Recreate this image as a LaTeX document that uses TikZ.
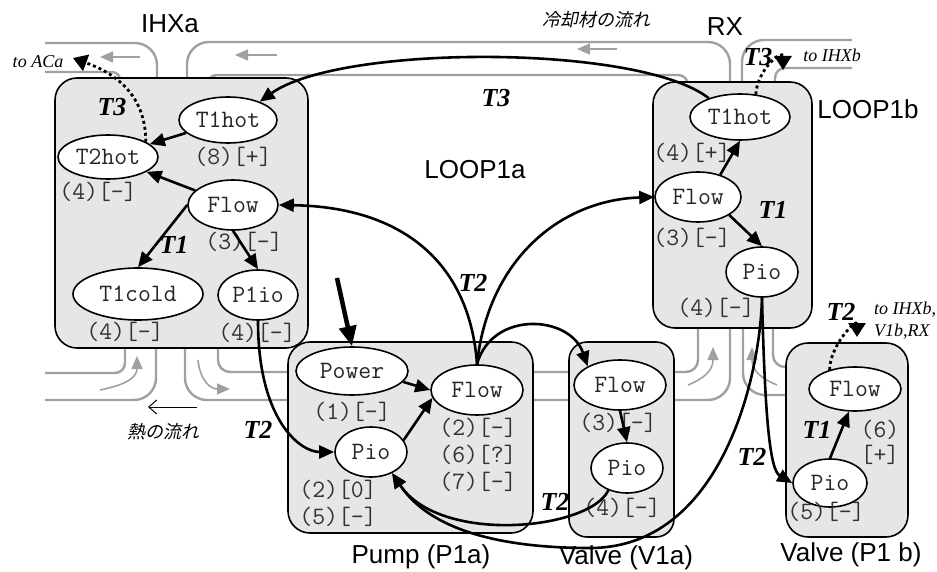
\documentclass[tikz,border=0pt]{standalone}
\usepackage{fontspec}
\setmainfont{Liberation Serif}
\setsansfont{Liberation Sans}
\newfontfamily\jpfont[FakeSlant=0.2]{Noto Sans CJK JP}
\usepackage{tikz}
\usetikzlibrary{arrows.meta,positioning,calc,shapes.geometric}

\definecolor{boxgray}{HTML}{E6E6E6}
\definecolor{pipegray}{HTML}{A0A0A0}

\begin{document}
\begin{tikzpicture}[
  x=1pt, y=-1pt,
  >={Triangle[length=15pt,width=13pt]},
  grp/.style={draw, line width=1.6pt, fill=boxgray, rounded corners=22pt, inner sep=0pt},
  var/.style={ellipse, draw, line width=1.6pt, fill=white, inner sep=0pt, minimum height=50pt,
              font=\fontsize{25}{27}\selectfont\ttfamily, text=black!85},
  ann/.style={font=\fontsize{25}{27}\selectfont\ttfamily, text=black!80, inner sep=0pt},
  ttl/.style={font=\fontsize{26}{28}\selectfont\sffamily, inner sep=0pt},
  tag/.style={font=\fontsize{26}{28}\selectfont\bfseries\itshape, inner sep=0pt},
  dst/.style={font=\fontsize{18}{22}\selectfont\itshape, inner sep=0pt},
  jp/.style={font=\fontsize{18}{20}\selectfont\jpfont, inner sep=0pt},
  dep/.style={->, line width=2.6pt},
  ext/.style={-{Triangle[length=14pt,width=17pt]}, line width=2.8pt, dash pattern=on 3pt off 3pt},
  pipe/.style={draw=pipegray, line width=2.4pt, rounded corners=22pt},
  flowarr/.style={pipegray, line width=1.6pt, -{Triangle[length=13pt,width=11pt]}},
]
\useasboundingbox (0,0) rectangle (937,572);

% coolant pipes
\draw[pipe] (45,43) -- (157,43) -- (157,80);
\draw[pipe, rounded corners=8pt] (45,72) -- (120,72) -- (120,80);
\draw[pipe] (187,80) -- (187,42) -- (730,42) -- (730,84);
\draw[pipe, rounded corners=10pt] (207,80) -- (207,75) -- (688,75) -- (688,84);
\draw[pipe] (742,84) -- (742,40) -- (852,40);
\draw[pipe, rounded corners=10pt] (775,84) -- (775,68) -- (852,68);
\draw[pipe] (45,400) -- (156,400) -- (156,346);
\draw[pipe, rounded corners=10pt] (45,373) -- (125,373) -- (125,346);
\draw[pipe] (185,346) -- (185,400) -- (730,400) -- (730,326);
\draw[pipe, rounded corners=12pt] (218,346) -- (218,372) -- (698,372) -- (698,326);
\draw[pipe] (743,326) -- (743,395) -- (790,395);
\draw[pipe, rounded corners=12pt] (773,326) -- (773,367) -- (790,367);

\draw[flowarr] (140,57) -- (100,57);
\draw[flowarr] (277,55) -- (235,55);
\draw[flowarr] (617,49) -- (577,49);
\draw[flowarr] (100,390) .. controls (125,385) and (137,378) .. (137,356);
\draw[flowarr] (198,360) .. controls (200,380) and (210,389) .. (230,389);
\draw[flowarr] (688,385) .. controls (705,378) and (713,370) .. (713,347);
\draw[flowarr] (777,385) .. controls (760,378) and (752,370) .. (752,347);
\draw[line width=1pt, -{Straight Barb[length=8pt,width=14pt]}] (197,407) -- (148,407);

% component boxes
\node[grp, minimum width=253pt, minimum height=270pt] (boxIHX) at (181.5,213) {};
\node[grp, minimum width=159pt, minimum height=246pt] (boxRX) at (732.5,205) {};
\node[grp, minimum width=245pt, minimum height=191pt] (boxPump) at (410.5,437.5) {};
\node[grp, minimum width=105pt, minimum height=195pt, rounded corners=18pt] (boxVa) at (621.5,439.5) {};
\node[grp, minimum width=122pt, minimum height=194pt] (boxVb) at (847,440) {};

\node[ttl] (ttlIHX) at (170,24) {IHXa};
\node[ttl] (ttlRX) at (725,27) {RX};
\node[ttl] (ttlLa) at (475,170) {LOOP1a};
\node[ttl] (ttlLb) at (868,109) {LOOP1b};
\node[ttl] (ttlPump) at (421,557) {Pump (P1a)};
\node[ttl] (ttlVa) at (626,558) {Valve (V1a)};
\node[ttl] (ttlVb) at (851,555) {Valve (P1 b)};
\node[jp] (jpCool) at (596,20) {冷却材の流れ};
\node[jp] (jpHeat) at (163,432) {熱の流れ};

\node[dst] (toACa) at (38,62) {to ACa};
\node[dst] (toIHXb) at (832,55) {to IHXb};
\node[dst, align=left] (toMany) at (905,321) {to IHXb,\\V1b,RX};

% variables
\node[var, minimum width=98pt, minimum height=46pt] (ihxT1hot) at (228,120) {T1hot};
\node[var, minimum width=100pt, minimum height=44pt] (ihxT2hot) at (108,157) {T2hot};
\node[var, minimum width=90pt] (ihxFlow) at (233,205) {Flow};
\node[var, minimum width=130pt, minimum height=52pt] (ihxT1cold) at (138,294) {T1cold};
\node[var, minimum width=80pt] (ihxP1io) at (258,295) {P1io};
\node[var, minimum width=100pt, minimum height=46pt] (rxT1hot) at (740,117) {T1hot};
\node[var, minimum width=86pt] (rxFlow) at (698,197) {Flow};
\node[var, minimum width=72pt] (rxPio) at (762,272) {Pio};
\node[var, minimum width=112pt, minimum height=48pt] (pPower) at (352,371) {Power};
\node[var, minimum width=92pt] (pFlow) at (477,390) {Flow};
\node[var, minimum width=72pt] (pPio) at (371,452) {Pio};
\node[var, minimum width=92pt] (vaFlow) at (620,385) {Flow};
\node[var, minimum width=72pt] (vaPio) at (627,468) {Pio};
\node[var, minimum width=92pt, minimum height=44pt] (vbFlow) at (855,389) {Flow};
\node[var, minimum width=74pt, minimum height=48pt] (vbPio) at (830,483) {Pio};

\node[ann] (aIhxHot) at (233,157) {(8)[+]};
\node[ann] (aIhxT2) at (98,192) {(4)[-]};
\node[ann] (aIhxFlow) at (244,242) {(3)[-]};
\node[ann] (aIhxCold) at (125,332) {(4)[-]};
\node[ann] (aIhxP1io) at (257,333) {(4)[-]};
\node[ann] (aRxHot) at (692,153) {(4)[+]};
\node[ann] (aRxFlow) at (692,238) {(3)[-]};
\node[ann] (aRxPio) at (716,308) {(4)[-]};
\node[ann] (aPower) at (352,412) {(1)[-]};
\node[ann] (aPFlowA) at (478,428) {(2)[-]};
\node[ann] (aPFlowB) at (478,455) {(6)[?]};
\node[ann] (aPFlowC) at (478,482) {(7)[-]};
\node[ann] (aPPioA) at (338,490) {(2)[0]};
\node[ann] (aPPioB) at (338,517) {(5)[-]};
\node[ann] (aVaFlow) at (618,423) {(3)[-]};
\node[ann] (aVaPio) at (622,508) {(4)[-]};
\node[ann] (aVbFlowA) at (880,430) {(6)};
\node[ann] (aVbFlowB) at (880,455) {[+]};
\node[ann] (aVbPio) at (826,512) {(5)[-]};

\node[tag] (t3a) at (112,107) {T3};
\node[tag] (t3b) at (496,98) {T3};
\node[tag] (t3c) at (758,57) {T3};
\node[tag] (t1a) at (174,245) {T1};
\node[tag] (t1b) at (773,210) {T1};
\node[tag] (t1c) at (817,430) {T1};
\node[tag] (t2a) at (473,283) {T2};
\node[tag] (t2b) at (258,430) {T2};
\node[tag] (t2c) at (555,502) {T2};
\node[tag] (t2d) at (752,457) {T2};
\node[tag] (t2e) at (841,312) {T2};

% dependencies inside components
\draw[dep] (ihxT1hot) -- (ihxT2hot);
\draw[dep] (ihxFlow) -- (ihxT2hot);
\draw[dep] (ihxFlow.west) -- (ihxT1cold.north);
\draw[dep] (ihxFlow.south) -- (ihxP1io.north);
\draw[dep] (rxFlow.45) -- (rxT1hot.south);
\draw[dep] (rxFlow.-30) -- (rxPio.north);
\draw[dep] (pPower.-12) -- (pFlow.west);
\draw[dep] (pPio.20) -- (pFlow.190);
\draw[dep] (vaFlow.south) -- (vaPio.north);
\draw[dep] (vbPio.north) -- (vbFlow.-105);

% dependencies between components
\draw[dep] (rxT1hot.149) .. controls (640,44) and (340,44) .. (ihxT1hot.30);
\draw[dep] (pFlow.north) .. controls (470,265) and (405,207) .. (ihxFlow.east);
\draw[dep] (pFlow.north) .. controls (488,260) and (560,200) .. (rxFlow.west);
\draw[dep] (pFlow.north) .. controls (492,310) and (570,315) .. (vaFlow.150);
\draw[dep] (ihxP1io.south) .. controls (258,420) and (300,452) .. (pPio.west);
\draw[dep] (vaPio.-130) .. controls (590,530) and (440,545) .. (pPio.-45);
\draw[dep] (rxPio.south) .. controls (760,380) and (720,548) .. (590,548)
  .. controls (500,548) and (430,530) .. (pPio.-45);
\draw[dep] (rxPio.south) .. controls (765,420) and (770,470) .. (vbPio.west);

\coordinate (powIn) at (337,278);
\draw[-{Triangle[length=20pt,width=17pt]}, line width=4.5pt] (powIn) -- (pPower.north);

% links leaving the loop
\coordinate (acaTip) at (73,58);
\coordinate (ihxbTip) at (783,70);
\coordinate (vbTip) at (857,337);
\draw[ext] (ihxT2hot.22) .. controls (146,85) and (100,68) .. (acaTip);
\draw[ext] (rxT1hot.55) .. controls (757,70) and (783,48) .. (ihxbTip);
\draw[ext] (vbFlow.143) .. controls (830,345) and (857,318) .. (vbTip);
\end{tikzpicture}
\end{document}
